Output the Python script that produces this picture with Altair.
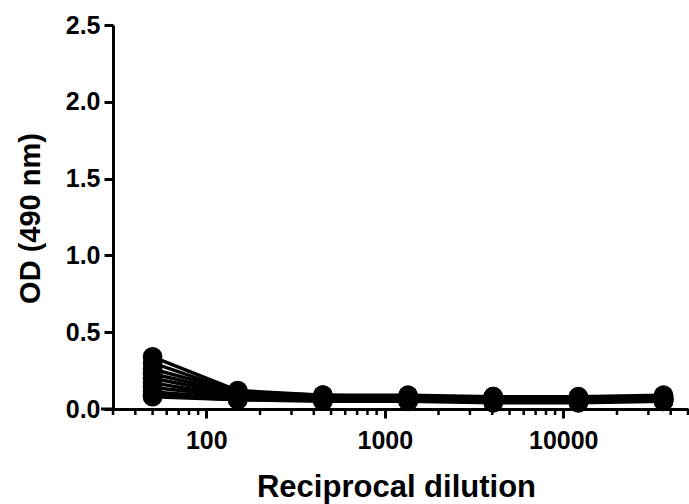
import altair as alt
import pandas as pd

# Data
dilution = [50, 150, 450, 1350, 4050, 12150, 36450]
series_names = ["S1", "S2", "S3", "S4", "S5", "S6", "S7", "S8", "S9", "S10"]
s1 = [0.34, 0.12, 0.09, 0.09, 0.08, 0.08, 0.09]
s2 = [0.30, 0.11, 0.09, 0.08, 0.08, 0.07, 0.08]
s3 = [0.26, 0.11, 0.08, 0.08, 0.07, 0.07, 0.07]
s4 = [0.23, 0.10, 0.08, 0.07, 0.07, 0.07, 0.07]
s5 = [0.20, 0.09, 0.07, 0.07, 0.07, 0.06, 0.07]
s6 = [0.17, 0.08, 0.07, 0.07, 0.06, 0.06, 0.06]
s7 = [0.14, 0.08, 0.06, 0.06, 0.06, 0.06, 0.06]
s8 = [0.11, 0.07, 0.06, 0.06, 0.05, 0.05, 0.06]
s9 = [0.09, 0.06, 0.06, 0.05, 0.05, 0.05, 0.05]
s10 = [0.08, 0.06, 0.05, 0.05, 0.04, 0.04, 0.05]
series_values = [s1, s2, s3, s4, s5, s6, s7, s8, s9, s10]

major_ticks = [100, 1000, 10000]
minor_ticks = [30, 40, 50, 60, 70, 80, 90,
               200, 300, 400, 500, 600, 700, 800, 900,
               2000, 3000, 4000, 5000, 6000, 7000, 8000, 9000,
               20000, 30000, 40000, 50000]
y_ticks = [0.0, 0.5, 1.0, 1.5, 2.0, 2.5]

rows = []
for name, vals in zip(series_names, series_values):
    for d, v in zip(dilution, vals):
        rows.append({"dilution": d, "od": v, "series": name})
df = pd.DataFrame(rows)

W, H = 575, 384
FONT = "Liberation Sans"

xscale = alt.Scale(type="log", domain=[30, 50000], nice=False)
yscale = alt.Scale(domain=[0, 2.5], nice=False)

lines = alt.Chart(df).mark_line(
    color="black", strokeWidth=3.5,
    point=alt.OverlayMarkDef(filled=True, color="black", size=390, opacity=1),
).encode(
    x=alt.X("dilution:Q", scale=xscale,
            axis=alt.Axis(values=major_ticks, format="d", title="Reciprocal dilution",
                          labelPadding=10, titleX=283, titleY=78,
                          titleBaseline="middle", titleAlign="center")),
    y=alt.Y("od:Q", scale=yscale,
            axis=alt.Axis(values=y_ticks, format=".1f", title="OD (490 nm)",
                          labelPadding=4, titleX=-83, titleY=193, titleAngle=-90,
                          titleBaseline="middle", titleAlign="center")),
    detail="series:N",
)

minor = alt.Chart(pd.DataFrame({"t": minor_ticks})).mark_rule(
    color="black", strokeWidth=2.5
).encode(
    x=alt.X("t:Q", scale=xscale),
    y=alt.value(H),
    y2=alt.value(H + 6),
)

ext = alt.Chart(pd.DataFrame({"a": [0]})).mark_rule(
    color="black", strokeWidth=3
).encode(
    x=alt.value(-12), x2=alt.value(0), y=alt.value(H),
)

chart = alt.layer(lines, minor, ext).properties(
    width=W, height=H,
    background="white",
    autosize=alt.AutoSizeParams(type="none"),
    padding={"left": 113, "top": 25, "right": 1, "bottom": 95},
).configure_view(stroke=None).configure_axis(
    grid=False,
    domainColor="black", domainWidth=3,
    tickColor="black", tickWidth=3, tickSize=9,
    labelFont=FONT, labelFontWeight="bold", labelFontSize=25, labelColor="black",
    titleFont=FONT, titleFontWeight="bold", titleFontSize=29, titleColor="black",
).configure_axisX(titleFontSize=31)

chart.save("out.html", embed_options={"renderer": "svg", "actions": False})
